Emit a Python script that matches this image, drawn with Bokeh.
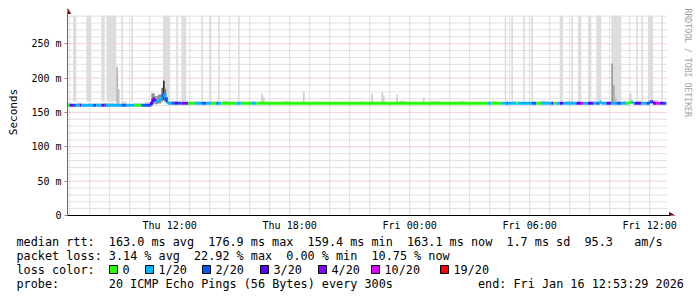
import re
import bisect
import math
import pandas as pd
from bokeh.plotting import figure
from bokeh.layouts import column
from bokeh.models import Range1d, FixedTicker
from bokeh.core.properties import value
from bokeh.embed import file_html
from bokeh.resources import INLINE

# ---------------- data ----------------
DAY = {"Thu": "2026-01-15", "Fri": "2026-01-16"}
graph_start = "2026-01-15 06:53:29"
graph_end = "2026-01-16 12:53:29"

tick_times = ["Thu 12:00", "Thu 18:00", "Fri 00:00", "Fri 06:00", "Fri 12:00"]
tick_labels = ["Thu 12:00", "Thu 18:00", "Fri 00:00", "Fri 06:00", "Fri 12:00"]
y_ticks = [0, 50, 100, 150, 200, 250]
y_tick_labels = ["0", "50 m", "100 m", "150 m", "200 m", "250 m"]
y_max = 291

median_start = ["Thu 06:55", "Thu 11:05", "Thu 11:10", "Thu 11:15", "Thu 11:20", "Thu 11:25",
                "Thu 11:30", "Thu 11:35", "Thu 11:40", "Thu 11:45", "Thu 11:50", "Thu 11:55",
                "Fri 09:30", "Fri 09:35", "Fri 11:00", "Fri 11:10", "Fri 12:00", "Fri 12:10"]
median_ms = [160.5, 165, 170, 167, 165, 167,
             169, 172, 176.9, 172, 166, 163.5,
             165, 163.5, 165, 163.5, 165.5, 163.5]
median_end = "Fri 12:50"

loss_start = ["Thu 06:55", "Thu 07:00", "Thu 07:10", "Thu 07:20", "Thu 07:30", "Thu 07:35",
              "Thu 08:10", "Thu 08:20", "Thu 08:35", "Thu 08:45", "Thu 08:50", "Thu 09:35",
              "Thu 09:50", "Thu 10:15", "Thu 10:35", "Thu 11:05", "Thu 11:20", "Thu 11:40",
              "Thu 11:45", "Thu 11:50", "Thu 11:55", "Thu 12:05", "Thu 12:15", "Thu 12:25",
              "Thu 12:35", "Thu 12:55", "Thu 13:15", "Thu 13:35", "Thu 13:50", "Thu 14:05",
              "Thu 14:20", "Thu 14:25", "Thu 14:35", "Thu 15:20", "Thu 15:35", "Thu 16:05",
              "Thu 16:20", "Fri 03:55", "Fri 04:05", "Fri 04:35", "Fri 04:50", "Fri 04:55",
              "Fri 05:20", "Fri 05:25", "Fri 06:05", "Fri 06:20", "Fri 06:35", "Fri 07:05",
              "Fri 07:10", "Fri 07:20", "Fri 07:30", "Fri 07:40", "Fri 08:20", "Fri 08:35",
              "Fri 08:40", "Fri 08:55", "Fri 09:10", "Fri 09:20", "Fri 09:30", "Fri 09:50",
              "Fri 10:05", "Fri 10:20", "Fri 10:35", "Fri 10:50", "Fri 11:05", "Fri 11:15",
              "Fri 11:35", "Fri 11:50", "Fri 12:05", "Fri 12:20", "Fri 12:30", "Fri 12:40"]
loss_count = [0, 3, 2, 1, 3, 1,
              2, 1, 3, 2, 1, 2,
              1, 0, 2, 3, 1, 2,
              1, 2, 1, 2, 3, 2,
              4, 0, 1, 2, 1, 0,
              2, 1, 0, 1, 0, 1,
              0, 1, 0, 1, 2, 1,
              0, 1, 2, 0, 1, 3,
              0, 1, 3, 1, 3, 10,
              1, 3, 1, 2, 1, 3,
              1, 2, 1, 0, 1, 3,
              1, 2, 3, 10, 3, 2]

loss_levels = [0, 1, 2, 3, 4, 10, 19]
loss_labels = ["0", "1/20", "2/20", "3/20", "4/20", "10/20", "19/20"]
loss_colors = ["#26ff00", "#00b8ff", "#0059ff", "#5e00ff", "#7e00ff", "#dd00ff", "#ff0000"]

band_start = ["Thu 07:10", "Thu 07:50", "Thu 08:35", "Thu 08:50", "Thu 09:35", "Thu 10:05",
              "Thu 11:40", "Thu 12:20", "Thu 12:35", "Thu 13:35", "Thu 14:00", "Thu 14:25",
              "Thu 15:25", "Fri 04:45", "Fri 05:05", "Fri 05:40", "Fri 06:05", "Fri 07:30",
              "Fri 08:05", "Fri 08:25", "Fri 08:55", "Fri 09:20", "Fri 10:05", "Fri 11:20",
              "Fri 11:35", "Fri 11:55", "Fri 12:35"]
band_end = ["Thu 07:20", "Thu 08:05", "Thu 08:45", "Thu 09:20", "Thu 09:40", "Thu 10:10",
            "Thu 12:00", "Thu 12:25", "Thu 12:50", "Thu 13:40", "Thu 14:05", "Thu 14:30",
            "Thu 15:30", "Fri 04:50", "Fri 05:10", "Fri 05:45", "Fri 06:10", "Fri 07:40",
            "Fri 08:10", "Fri 08:35", "Fri 09:05", "Fri 09:35", "Fri 10:35", "Fri 11:25",
            "Fri 11:40", "Fri 12:10", "Fri 12:40"]
band_low = [166] * 27

smoke_start = ["Thu 06:55", "Thu 07:20", "Thu 07:55", "Thu 08:20", "Thu 08:40", "Thu 09:35",
               "Thu 10:10", "Thu 10:45", "Thu 12:05", "Thu 13:00", "Thu 14:00", "Thu 14:40",
               "Thu 15:35", "Thu 16:00", "Thu 17:45", "Thu 19:15", "Thu 21:30", "Thu 23:30",
               "Fri 01:00", "Fri 02:30", "Fri 04:05", "Fri 05:10", "Fri 06:30", "Fri 07:50",
               "Fri 09:10", "Fri 10:40", "Fri 11:25", "Fri 12:10",
               "Thu 09:20", "Thu 09:25", "Thu 16:35", "Thu 16:40", "Thu 18:40", "Thu 22:05",
               "Thu 22:35", "Thu 22:40", "Thu 23:20", "Fri 00:40", "Fri 10:05", "Fri 10:10",
               "Fri 10:15", "Fri 11:00",
               "Thu 11:05", "Thu 11:15", "Thu 11:25", "Thu 11:35", "Thu 11:40", "Thu 11:45",
               "Thu 11:50"]
smoke_end = ["Thu 07:05", "Thu 07:35", "Thu 08:05", "Thu 08:35", "Thu 09:15", "Thu 09:50",
             "Thu 10:35", "Thu 11:05", "Thu 12:30", "Thu 13:30", "Thu 14:20", "Thu 15:00",
             "Thu 15:45", "Thu 16:15", "Thu 18:00", "Thu 19:30", "Thu 21:45", "Thu 23:50",
             "Fri 01:30", "Fri 02:45", "Fri 04:20", "Fri 05:20", "Fri 06:50", "Fri 08:10",
             "Fri 09:20", "Fri 10:50", "Fri 11:35", "Fri 12:25",
             "Thu 09:25", "Thu 09:30", "Thu 16:40", "Thu 16:45", "Thu 18:45", "Thu 22:10",
             "Thu 22:40", "Thu 22:45", "Thu 23:25", "Fri 00:45", "Fri 10:10", "Fri 10:15",
             "Fri 10:20", "Fri 11:05",
             "Thu 11:15", "Thu 11:25", "Thu 11:35", "Thu 11:40", "Thu 11:45", "Thu 11:50",
             "Thu 11:55"]
smoke_low = [159, 159, 159, 159, 159, 159, 159, 159, 162, 162, 162, 162, 162, 162,
             162, 162, 162, 162, 162, 162, 162, 162, 162, 162, 162, 162, 162, 162,
             162, 162, 163, 163, 163, 163, 163, 163, 163, 163, 163, 163, 163, 163,
             162, 162, 163, 166, 168, 165, 162]
smoke_high = [164, 164.5, 163.5, 163.5, 164, 166, 163.5, 165, 167, 166, 166, 167, 166, 166,
              167, 166, 166, 167, 167, 167, 167, 166, 167, 167, 167, 167, 167, 168,
              216, 184, 177, 172, 179, 177, 179, 175, 176, 172, 221, 190, 172, 178,
              178, 174, 176, 186, 196, 184, 170]
smoke_color = ["#d9d9d9"] * 28 + [
    "#b4b4b4", "#c8c8c8", "#cccccc", "#d4d4d4", "#cccccc", "#cccccc",
    "#cccccc", "#d4d4d4", "#cccccc", "#d0d0d0", "#9a9a9a", "#acacac",
    "#c0c0c0", "#cccccc",
    "#909090", "#a0a0a0", "#909090", "#707070", "#303030", "#808080", "#b0b0b0"]

legend_rows = [
    "median rtt:  163.0 ms avg  176.9 ms max  159.4 ms min  163.1 ms now  1.7 ms sd  95.3   am/s",
    "packet loss: 3.14 % avg  22.92 % max  0.00 % min  10.75 % now",
    "loss color:",
    "probe:       20 ICMP Echo Pings (56 Bytes) every 300s",
]
end_text = "end: Fri Jan 16 12:53:29 2026"
watermark = "RRDTOOL / TOBI OETIKER"

# ---------------- helpers ----------------
def T(s):
    d, hm = s.split()
    return pd.Timestamp(f"{DAY[d]} {hm}").value / 1e6

T0 = pd.Timestamp(graph_start).value / 1e6
T1 = pd.Timestamp(graph_end).value / 1e6

FONT = "DejaVu Sans Mono"
W, H_MAIN, H_LEG = 697, 233, 64
LEFT, TOP, BOTTOM = 67, 8, 18
GRAPH_W, GRAPH_H = 600, 200            # rrdtool canvas size
FRAME_W = W - LEFT
FRAME_H = H_MAIN - TOP - BOTTOM
ms_per_px = (T1 - T0) / GRAPH_W
val_per_px = y_max / GRAPH_H
X_END = T0 + FRAME_W * ms_per_px
Y_END = FRAME_H * val_per_px

def level_color(n):
    idx = max(i for i, l in enumerate(loss_levels) if l <= n)
    return loss_colors[idx]

# ---------------- main figure ----------------
p = figure(width=W, height=H_MAIN, x_range=Range1d(T0, X_END), y_range=Range1d(0, Y_END),
           min_border_left=LEFT, min_border_right=0, min_border_top=TOP,
           min_border_bottom=BOTTOM, output_backend="svg", toolbar_location=None)
p.frame_align = False
p.background_fill_color = "white"
p.border_fill_color = "white"
p.outline_line_color = None
p.xgrid.visible = False
p.ygrid.visible = False

# grid (restricted to the graph canvas)
hours = pd.date_range("2026-01-15 07:00", "2026-01-16 12:00", freq="1h")
vx_minor = [h.value / 1e6 for h in hours if h.hour % 3 != 0]
vx_major = [h.value / 1e6 for h in hours if h.hour % 3 == 0]
hy_minor = [v for v in range(10, y_max, 10) if v % 50 != 0]
hy_major = [v for v in y_ticks if v > 0]
MINOR_C, MAJOR_C = "#c4c4c4", "#f0a0a0"
p.segment(x0=vx_minor, x1=vx_minor, y0=[0] * len(vx_minor), y1=[y_max] * len(vx_minor),
          line_color=MINOR_C, line_dash="1 1", line_width=1)
p.segment(x0=[T0] * len(hy_minor), x1=[T1] * len(hy_minor), y0=hy_minor, y1=hy_minor,
          line_color=MINOR_C, line_dash="1 1", line_width=1)
p.segment(x0=vx_major, x1=vx_major, y0=[0] * len(vx_major), y1=[y_max] * len(vx_major),
          line_color=MAJOR_C, line_dash="1 1", line_width=1)
p.segment(x0=[T0] * len(hy_major), x1=[T1] * len(hy_major), y0=hy_major, y1=hy_major,
          line_color=MAJOR_C, line_dash="1 1", line_width=1)

# axes
tick_ms = [T(s) for s in tick_times]
p.xaxis.ticker = FixedTicker(ticks=tick_ms)
p.xaxis.major_label_overrides = {t: l for t, l in zip(tick_ms, tick_labels)}
p.xaxis.major_tick_out = 0
p.xaxis.major_tick_in = 0
p.xaxis.major_tick_line_color = None
p.xaxis.minor_tick_line_color = None
p.xaxis.axis_line_color = "black"
p.xaxis.bounds = (T0 - 5 * ms_per_px, T1 + 3 * ms_per_px)
p.xaxis.major_label_standoff = 4
p.xaxis.major_label_text_font = FONT
p.xaxis.major_label_text_font_size = "10px"
p.xaxis.major_label_text_color = "black"

p.yaxis.ticker = FixedTicker(ticks=y_ticks)
p.yaxis.major_label_overrides = {t: l for t, l in zip(y_ticks, y_tick_labels)}
p.yaxis.major_tick_out = 3
p.yaxis.major_tick_in = 0
p.yaxis.major_tick_line_color = "#888888"
p.yaxis.minor_tick_line_color = None
p.yaxis.axis_line_color = "#666666"
p.yaxis.bounds = (-4 * val_per_px, y_max + 3 * val_per_px)
p.yaxis.major_label_standoff = 3
p.yaxis.major_label_text_font = FONT
p.yaxis.major_label_text_font_size = "10px"
p.yaxis.major_label_text_color = "black"
p.yaxis.axis_label = "Seconds"
p.yaxis.axis_label_text_font = FONT
p.yaxis.axis_label_text_font_size = "11px"
p.yaxis.axis_label_text_font_style = "normal"
p.yaxis.axis_label_text_color = "black"
p.yaxis.axis_label_standoff = 8

# full-height loss bands
p.quad(left=[T(s) for s in band_start], right=[T(s) for s in band_end],
       bottom=band_low, top=[y_max] * len(band_low),
       fill_color="#dddddd", line_color=None)

# smoke
p.quad(left=[T(s) for s in smoke_start], right=[T(s) for s in smoke_end],
       bottom=smoke_low, top=smoke_high, fill_color=smoke_color, line_color=None)

# median line coloured by loss
med_t = [T(s) for s in median_start] + [T(median_end)]
loss_t = [T(s) for s in loss_start]
bps = sorted(set(med_t) | set(t for t in loss_t if t < med_t[-1]))
sx0, sx1, sy0, sy1, sc = [], [], [], [], []
prev = None
for a, b in zip(bps[:-1], bps[1:]):
    m = median_ms[bisect.bisect_right(med_t, a) - 1]
    c = level_color(loss_count[bisect.bisect_right(loss_t, a) - 1])
    if prev is not None and m != prev:
        sx0.append(a); sx1.append(a); sy0.append(prev); sy1.append(m); sc.append(c)
    sx0.append(a); sx1.append(b); sy0.append(m); sy1.append(m); sc.append(c)
    prev = m
p.segment(x0=sx0, y0=sy0, x1=sx1, y1=sy1, line_color=sc, line_width=3)

# axis arrow heads (at the ends of the axes)
ah_x = [[T0 - 3 * ms_per_px, T0 + 3 * ms_per_px, T0],
        [T1 + 2 * ms_per_px, T1 + 2 * ms_per_px, T1 + 7 * ms_per_px]]
ah_y = [[y_max + 2 * val_per_px, y_max + 2 * val_per_px, y_max + 7 * val_per_px],
        [3 * val_per_px, -3 * val_per_px, 0]]
p.patches(xs=ah_x, ys=ah_y, fill_color="#800000", line_color="#800000")

# watermark
p.text(x=[T1 + 20.5 * ms_per_px], y=[Y_END], text=[watermark], angle=-math.pi / 2,
       text_align="left", text_baseline="middle", text_font=value(FONT),
       text_font_size="8.2px", text_color="#a0a0a0")

# ---------------- legend figure ----------------
q = figure(width=W, height=H_LEG, x_range=Range1d(0, W), y_range=Range1d(H_LEG, 0),
           min_border=0, output_backend="svg", toolbar_location=None,
           x_axis_location=None, y_axis_location=None)
q.frame_align = False
q.grid.visible = False
q.outline_line_color = None
q.background_fill_color = "white"
q.border_fill_color = "white"

CW, X0 = 7.1, 16
row_y = [8, 22.5, 36, 50.5]
tx, ty, tt = [], [], []
for r, line in enumerate(legend_rows):
    for mt in re.finditer(r"\S+(?: \S+)*", line):
        tx.append(X0 + mt.start() * CW); ty.append(row_y[r]); tt.append(mt.group())
tx.append(X0 + 65 * CW); ty.append(row_y[3]); tt.append(end_text)

label_x = [122, 158, 215, 273, 331, 384, 453]
tx += label_x
ty += [row_y[2]] * len(label_x)
tt += loss_labels
q.text(x=tx, y=ty, text=tt, text_font=value(FONT), text_font_size="11.8px",
       text_baseline="middle", text_align="left", text_color="black")
q.quad(left=[x - 13 for x in label_x], right=[x - 5 for x in label_x],
       top=[row_y[2] - 4] * len(label_x), bottom=[row_y[2] + 4] * len(label_x),
       fill_color=loss_colors, line_color="black", line_width=1)

layout = column(p, q, spacing=0)
open("out.html", "w").write(file_html(layout, INLINE))
